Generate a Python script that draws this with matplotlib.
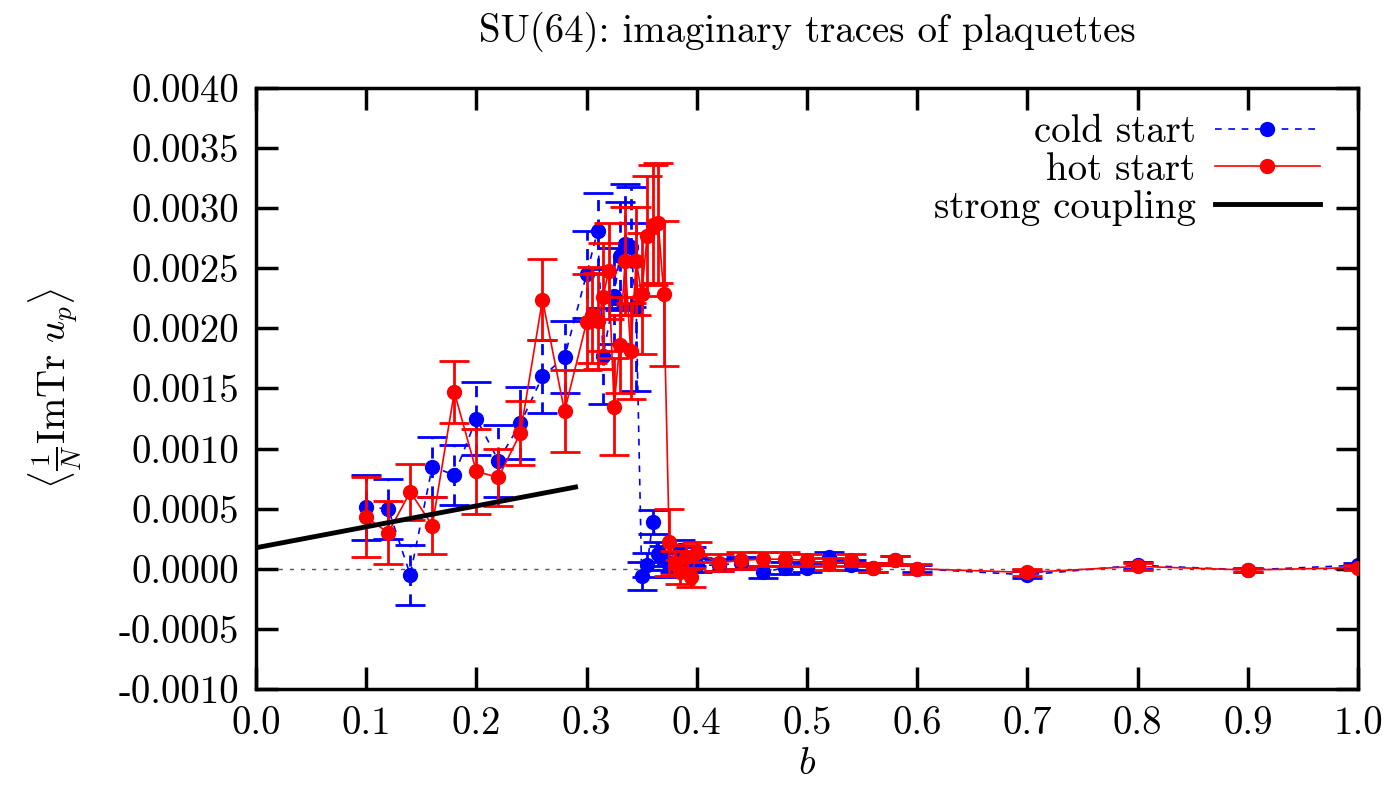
import numpy as np
import matplotlib
matplotlib.use("Agg")
import matplotlib.pyplot as plt
from matplotlib.lines import Line2D

plt.rcParams['font.family'] = ['cmr10', 'DejaVu Serif']
plt.rcParams['mathtext.fontset'] = 'cm'
plt.rcParams['axes.unicode_minus'] = False

# cold start
cold_b = [0.10, 0.12, 0.14, 0.16, 0.18, 0.20, 0.22, 0.24, 0.26, 0.28,
          0.30, 0.31, 0.315, 0.325, 0.33, 0.335, 0.34, 0.345,
          0.35, 0.355, 0.36, 0.365, 0.37, 0.375, 0.38, 0.385, 0.39, 0.395, 0.40,
          0.42, 0.44, 0.46, 0.48, 0.50, 0.52, 0.54, 0.56, 0.58, 0.60,
          0.70, 0.80, 0.90, 1.00]
cold_y = [0.00051, 0.00050, -0.00005, 0.00085, 0.00078, 0.00125, 0.00090, 0.00121, 0.00160, 0.00176,
          0.00245, 0.00281, 0.00177, 0.00227, 0.00260, 0.00270, 0.00268, 0.00218,
          -0.00006, 0.00003, 0.00039, 0.00012, 0.00009, 0.00003, 0.00005, 0.00016, 0.00005, 0.00010, 0.00003,
          0.00003, 0.00005, -0.00003, 0.00001, 0.00001, 0.00010, 0.00003, 0.00001, 0.00007, 0.00000,
          -0.00005, 0.00003, -0.00001, 0.00003]
cold_err = [0.00027, 0.00025, 0.00025, 0.00025, 0.00025, 0.00030, 0.00030, 0.00030, 0.00030, 0.00030,
            0.00036, 0.00032, 0.00040, 0.00040, 0.00045, 0.00050, 0.00050, 0.00070,
            0.00012, 0.00010, 0.00010, 0.00010, 0.00010, 0.00010, 0.00008, 0.00008, 0.00008, 0.00008, 0.00006,
            0.00005, 0.00005, 0.00005, 0.00005, 0.00004, 0.00004, 0.00004, 0.00004, 0.00004, 0.00003,
            0.00003, 0.00003, 0.00002, 0.00002]

# hot start
hot_b = [0.10, 0.12, 0.14, 0.16, 0.18, 0.20, 0.22, 0.24, 0.26, 0.28,
         0.30, 0.305, 0.31, 0.315, 0.32, 0.325, 0.33, 0.335, 0.34, 0.345,
         0.35, 0.355, 0.36, 0.365, 0.37, 0.375, 0.38, 0.385, 0.39, 0.395, 0.40,
         0.42, 0.44, 0.46, 0.48, 0.50, 0.52, 0.54, 0.56, 0.58, 0.60,
         0.70, 0.80, 0.90, 1.00]
hot_y = [0.00043, 0.00030, 0.00064, 0.00036, 0.00147, 0.00081, 0.00076, 0.00113, 0.00224, 0.00131,
         0.00205, 0.00211, 0.00206, 0.00226, 0.00248, 0.00135, 0.00186, 0.00256, 0.00181, 0.00256,
         0.00229, 0.00277, 0.00286, 0.00288, 0.00229, 0.00022, 0.00005, -0.00003, 0.00010, -0.00007, 0.00014,
         0.00005, 0.00007, 0.00008, 0.00008, 0.00007, 0.00004, 0.00007, 0.00001, 0.00007, 0.00000,
         -0.00003, 0.00002, -0.00001, 0.00001]
hot_err = [0.00033, 0.00026, 0.00023, 0.00024, 0.00026, 0.00035, 0.00024, 0.00027, 0.00034, 0.00034,
           0.00040, 0.00040, 0.00040, 0.00045, 0.00040, 0.00040, 0.00040, 0.00045, 0.00040, 0.00045,
           0.00050, 0.00050, 0.00050, 0.00050, 0.00060, 0.00028, 0.00010, 0.00010, 0.00010, 0.00008, 0.00008,
           0.00007, 0.00007, 0.00006, 0.00006, 0.00005, 0.00005, 0.00005, 0.00004, 0.00004, 0.00004,
           0.00003, 0.00003, 0.00002, 0.00002]

# strong coupling line
sc_b = [0.0, 0.29]
sc_y = [0.000175, 0.00068]

xticks = [0.0, 0.1, 0.2, 0.3, 0.4, 0.5, 0.6, 0.7, 0.8, 0.9, 1.0]
yticks = [-0.0010, -0.0005, 0.0, 0.0005, 0.0010, 0.0015, 0.0020, 0.0025, 0.0030, 0.0035, 0.0040]

fs = 28
fig = plt.figure(figsize=(13.88, 8.02), dpi=100)
fig.patch.set_facecolor('white')
ax = fig.add_axes([0.1844, 0.1409, 0.7940, 0.7494])

ax.axhline(0.0, color='#555555', lw=1.0, ls=(0, (3, 5)), zorder=1)

eb = ax.errorbar(cold_b, cold_y, yerr=cold_err, color='blue', ls=(0, (4, 4)), lw=1.2,
                 marker='o', ms=10, elinewidth=2, capsize=11, capthick=2, zorder=2)
for c in eb[2]:
    c.set_linestyle((0, (4, 3)))

ax.errorbar(hot_b, hot_y, yerr=hot_err, color='red', ls='-', lw=1.2,
            marker='o', ms=10, elinewidth=2, capsize=11, capthick=2, zorder=3)

ax.plot(sc_b, sc_y, color='black', lw=3.5, zorder=4)

ax.set_xlim(0.0, 1.0)
ax.set_ylim(-0.0010, 0.0040)
ax.set_xticks(xticks)
ax.set_xticklabels(['%.1f' % v for v in xticks])
ax.set_yticks(yticks)
ax.set_yticklabels(['%.4f' % v for v in yticks])
ax.tick_params(direction='in', length=16, width=2.5, top=True, right=True,
               labelsize=fs, pad=12)
for s in ax.spines.values():
    s.set_linewidth(2.5)

ax.set_title('SU(64): imaginary traces of plaquettes', fontsize=fs, pad=33)
ax.set_xlabel('$b$', fontsize=fs, labelpad=3)
ax.set_ylabel(r'$\langle\frac{1}{N}\mathrm{ImTr}\ u_p\rangle$', fontsize=fs, labelpad=25)

handles = [
    Line2D([], [], color='blue', ls=(0, (4, 4)), lw=1.2, marker='o', ms=10),
    Line2D([], [], color='red', ls='-', lw=1.2, marker='o', ms=10),
    Line2D([], [], color='black', lw=3.5),
]
leg = ax.legend(handles, ['cold start', 'hot start', 'strong coupling'],
                loc='upper right', bbox_to_anchor=(0.9796, 0.982), frameon=False,
                markerfirst=False, fontsize=fs,
                handlelength=2.7, handletextpad=0.5, labelspacing=0.05,
                borderaxespad=0.0)

plt.savefig('out.png', dpi=100)
